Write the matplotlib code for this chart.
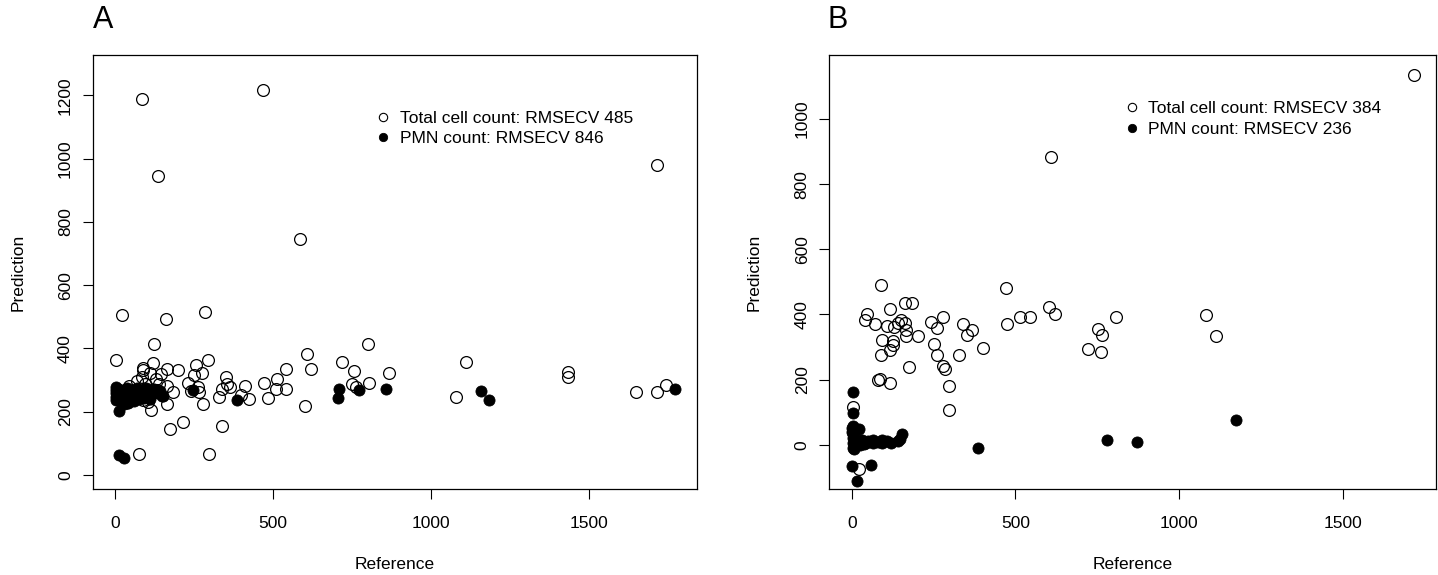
import matplotlib
matplotlib.use('Agg')
import matplotlib.pyplot as plt
from matplotlib.lines import Line2D

plt.rcParams['font.family'] = ['Liberation Sans', 'DejaVu Sans']

# Panel A: cross-validated predictions vs. reference counts
a_total_ref = [84, 467, 135, 584, 1714, 21, 162, 283, 122, 801, 2, 121, 294, 607, 718, 1110,
               87, 89, 163, 199, 255, 276, 111, 144, 249, 128, 70, 84, 229, 350, 355, 363,
               338, 411, 471, 511, 540, 618, 540, 510, 483, 423, 398, 327, 600, 756, 748, 761,
               804, 867, 1078, 1434, 1434, 1649, 1713, 1742, 182, 163, 165, 114, 277, 266, 241,
               261, 174, 215, 339, 76, 297, 45, 95, 107, 131, 87, 60, 35, 15, 105, 140]
a_total_pred = [1188, 1216, 945, 745, 980, 505, 494, 514, 414, 413, 365, 355, 363, 384, 356, 358,
                338, 333, 336, 331, 347, 324, 324, 318, 316, 302, 298, 310, 292, 310, 289, 279,
                273, 282, 291, 305, 335, 334, 271, 271, 242, 240, 254, 247, 218, 328, 287, 279,
                292, 321, 247, 326, 311, 262, 263, 284, 261, 282, 224, 205, 224, 261, 266,
                279, 145, 168, 154, 68, 68, 282, 289, 258, 268, 236, 262, 270, 250, 230, 288]

a_pmn_ref = [13, 13, 28, 152, 247, 385, 707, 706, 770, 858, 1156, 1184, 1770,
             2, 2, 3, 2, 3, 8, 10, 14, 18, 22, 26, 30, 34, 38, 42, 46, 50, 54, 58, 62,
             66, 70, 74, 78, 82, 86, 90, 94, 98, 102, 106, 110, 114, 118, 122, 126, 130,
             136, 142, 148, 28, 36]
a_pmn_pred = [203, 64, 55, 250, 270, 238, 273, 245, 269, 273, 266, 236, 271,
              278, 268, 258, 248, 238, 272, 245, 262, 232, 270, 252, 240, 265, 275, 228, 258,
              245, 270, 235, 262, 250, 275, 240, 265, 255, 270, 245, 260, 275, 250, 265, 240,
              270, 255, 272, 262, 268, 258, 265, 250, 225, 228]

a_labels = ['Total cell count: RMSECV 485', 'PMN count: RMSECV 846']

# Panel B
b_total_ref = [1716, 607, 90, 471, 162, 185, 117, 602, 620, 46, 41, 72, 109, 130, 140, 149,
               163, 167, 167, 201, 91, 126, 127, 116, 90, 176, 80, 86, 116, 241, 278, 261,
               251, 261, 279, 285, 298, 296, 341, 352, 367, 329, 400, 473, 515, 544, 720,
               751, 764, 760, 807, 1081, 1113, 5, 23]
b_total_pred = [1135, 885, 491, 482, 436, 434, 417, 423, 402, 400, 384, 372, 364, 361, 374, 384,
                374, 351, 333, 335, 322, 318, 305, 290, 275, 240, 200, 201, 189, 378, 392, 358,
                310, 277, 243, 234, 179, 108, 372, 338, 353, 276, 297, 372, 393, 392, 294,
                354, 338, 285, 391, 398, 335, 115, -74]

b_pmn_ref = [3, 3, 3, 1, 21, 0, 59, 17, 386, 781, 871, 1174, 153, 147, 121, 93, 93, 64, 64,
             44, 31, 24, 5, 5, 3, 5, 15, 37, 50, 80, 108, 140, 8, 0]
b_pmn_pred = [163, 98, 57, 50, 47, -65, -62, -110, -9, 15, 8, 76, 34, 18, 6, 16, 4, 16, 4,
              6, 16, -2, 21, 32, -9, 6, 14, 1, 11, 8, 11, 11, -14, 40]

b_labels = ['Total cell count: RMSECV 384', 'PMN count: RMSECV 236']

FS = 12.5


def draw_panel(ax, total_ref, total_pred, pmn_ref, pmn_pred, labels,
               xlim, ylim, yticks, legend_anchor):
    ax.plot(total_ref, total_pred, ls='none', marker='o', ms=8.5, mew=0.9,
            mfc='none', mec='black')
    ax.plot(pmn_ref, pmn_pred, ls='none', marker='o', ms=8, mew=0.6,
            mfc='black', mec='black')

    ax.set_xlim(xlim)
    ax.set_ylim(ylim)
    ax.set_xticks([0, 500, 1000, 1500])
    ax.set_yticks(yticks)
    ax.tick_params(axis='both', direction='out', length=7.2, width=0.8, labelsize=FS)
    ax.tick_params(axis='x', pad=12)
    ax.tick_params(axis='y', pad=7)
    for lab in ax.get_yticklabels():
        lab.set_rotation(90)
        lab.set_va('center')
    for sp in ax.spines.values():
        sp.set_linewidth(0.9)

    ax.set_xlabel('Reference', fontsize=FS, labelpad=19)
    ax.set_ylabel('Prediction', fontsize=FS, labelpad=23.5)

    handles = [Line2D([], [], ls='none', marker='o', ms=6, mew=0.8, mfc='none', mec='black'),
               Line2D([], [], ls='none', marker='o', ms=6, mew=0.6, mfc='black', mec='black')]
    ax.legend(handles, labels, loc='center left', bbox_to_anchor=legend_anchor,
              frameon=False, handlelength=1.0, handletextpad=0.45, borderpad=0,
              borderaxespad=0, labelspacing=0.3, fontsize=FS)


fig = plt.figure(figsize=(14.38, 5.75), dpi=100)
ax_a = fig.add_axes([0.0645, 0.149, 0.420, 0.7553])
ax_b = fig.add_axes([0.5768, 0.149, 0.4218, 0.7553])

draw_panel(ax_a, a_total_ref, a_total_pred, a_pmn_ref, a_pmn_pred, a_labels,
           (-71, 1840), (-45, 1327), [0, 200, 400, 600, 800, 1000, 1200], (0.4667, 0.831))
draw_panel(ax_b, b_total_ref, b_total_pred, b_pmn_ref, b_pmn_pred, b_labels,
           (-68, 1784), (-137, 1197), [0, 200, 400, 600, 800, 1000], (0.4839, 0.853))

fig.text(103 / 1438, 1 - 20 / 575, 'A', fontsize=22, ha='center', va='center')
fig.text(838 / 1438, 1 - 20 / 575, 'B', fontsize=22, ha='center', va='center')

fig.savefig('out.png', dpi=100)
